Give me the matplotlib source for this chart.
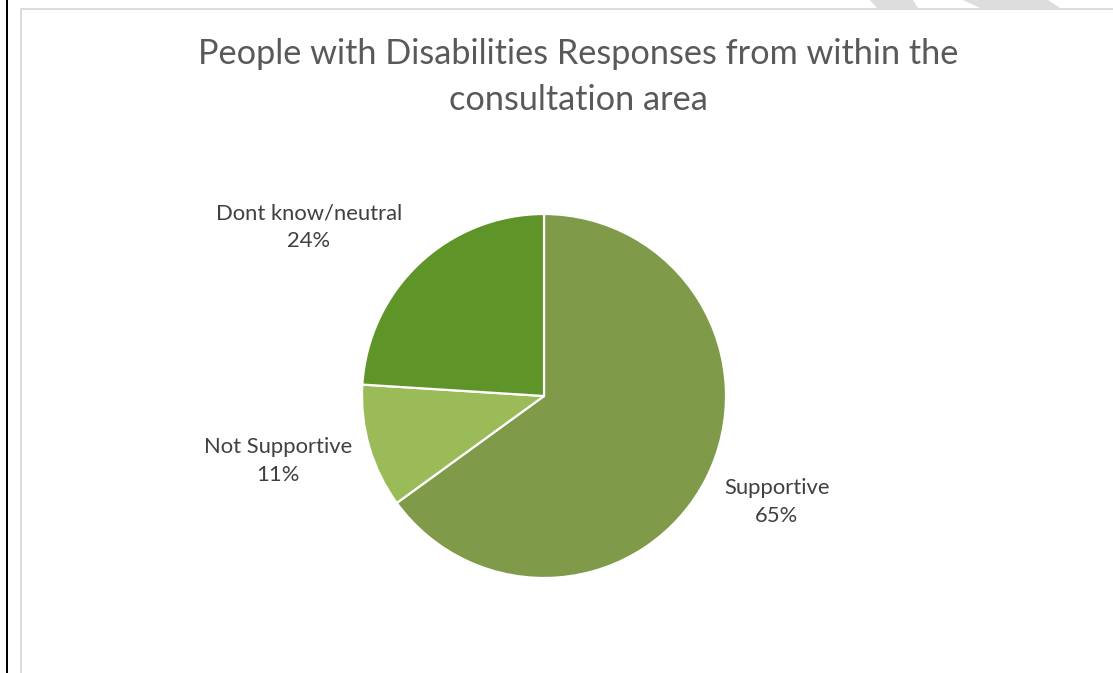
import matplotlib
matplotlib.use("Agg")
import matplotlib.pyplot as plt
from matplotlib.patches import Rectangle, Polygon

# data
categories = ["Supportive", "Not Supportive", "Dont know/neutral"]
shares = [65, 11, 24]
colors = ["#7F9A48", "#9BBB59", "#5F9428"]
title = "People with Disabilities Responses from within the\nconsultation area"

W, H = 1113, 673
fig = plt.figure(figsize=(W / 100, H / 100), dpi=100)
fig.patch.set_facecolor("white")
plt.rcParams["font.family"] = ["Lato", "DejaVu Sans"]

def fx(px):
    return px / W

def fy(py):
    return 1 - py / H

# page decoration: black rule at left, grey watermark stripes, chart border
fig.add_artist(Rectangle((fx(6), 0), fx(2), 1, transform=fig.transFigure,
                         facecolor="black", edgecolor="none"))
for pts in ([(870, 0), (913, 0), (918, 8), (877, 8)],
            [(963, 0), (1048, 0), (1060, 8), (980, 8)]):
    fig.add_artist(Polygon([(fx(x), fy(y)) for x, y in pts], closed=True,
                           transform=fig.transFigure, facecolor="#DDDDDD",
                           edgecolor="none"))
fig.add_artist(Rectangle((fx(21), -0.1), 1.2, fy(9) + 0.1, transform=fig.transFigure,
                         facecolor="none", edgecolor="#D9D9D9", linewidth=1.3))

# pie
cx, cy, r = 544, 396, 182
ax = fig.add_axes([fx(cx - r), fy(cy + r), fx(2 * r), (2 * r) / H])
ax.pie(shares, colors=colors, startangle=90, counterclock=False,
       wedgeprops=dict(edgecolor="white", linewidth=1.6))
ax.set_xlim(-1, 1)
ax.set_ylim(-1, 1)
ax.axis("off")

fig.text(fx(578), fy(77), title, ha="center", va="center", fontsize=24.7,
         color="#595959", linespacing=1.5)

label_pos = {"Supportive": (777, 502), "Not Supportive": (278, 461),
             "Dont know/neutral": (309, 227)}
for name, val in zip(categories, shares):
    x, y = label_pos[name]
    fig.text(fx(x), fy(y), f"{name}\n{val}%", ha="center", va="center",
             fontsize=15.8, color="#404040", linespacing=1.5)

fig.savefig("out.png", dpi=100, facecolor="white")
